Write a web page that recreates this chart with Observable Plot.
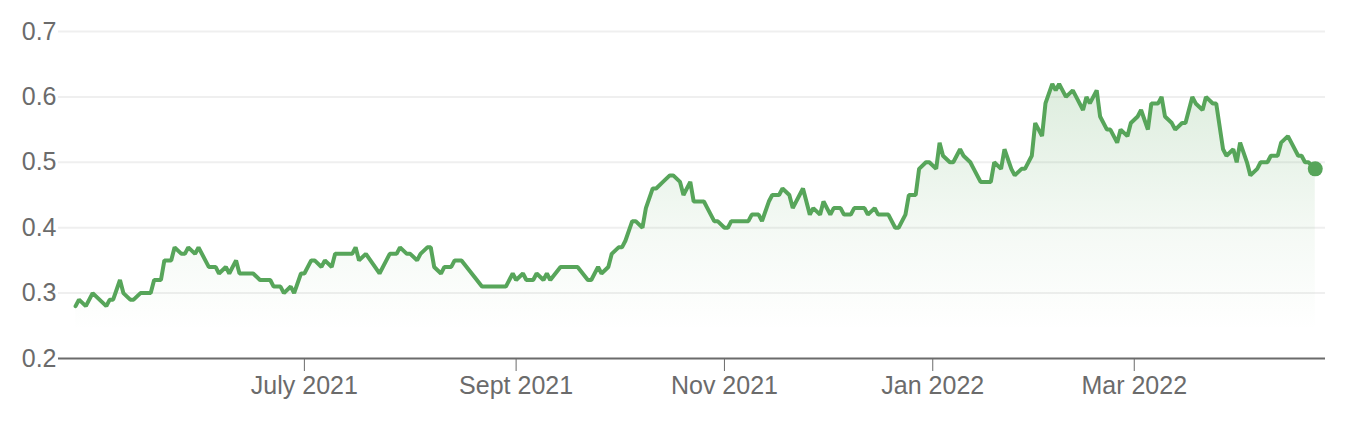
<!DOCTYPE html>
<html>
<head>
<meta charset="utf-8">
<script src="https://cdn.jsdelivr.net/npm/d3@7"></script>
<script src="https://cdn.jsdelivr.net/npm/@observablehq/plot@0.6"></script>
<style>
  html, body { margin: 0; padding: 0; background: #fff; }
</style>
</head>
<body>
<div id="chart"></div>
<script>
const dates = [
  "2021-04-25","2021-04-26","2021-04-28","2021-04-30","2021-05-04","2021-05-05","2021-05-06","2021-05-08","2021-05-09","2021-05-11",
  "2021-05-12","2021-05-14","2021-05-17","2021-05-18","2021-05-20","2021-05-21","2021-05-23","2021-05-24","2021-05-26","2021-05-27",
  "2021-05-28","2021-05-30","2021-05-31","2021-06-02","2021-06-03","2021-06-05","2021-06-06","2021-06-08","2021-06-09","2021-06-11",
  "2021-06-12","2021-06-16","2021-06-18","2021-06-21","2021-06-22","2021-06-24","2021-06-25","2021-06-27","2021-06-28","2021-06-30",
  "2021-07-01","2021-07-03","2021-07-04","2021-07-06","2021-07-07","2021-07-09","2021-07-10","2021-07-15","2021-07-16","2021-07-17",
  "2021-07-19","2021-07-23","2021-07-25","2021-07-26","2021-07-28","2021-07-29","2021-07-31","2021-08-01","2021-08-03","2021-08-04",
  "2021-08-06","2021-08-07","2021-08-08","2021-08-10","2021-08-11","2021-08-13","2021-08-14","2021-08-16","2021-08-22","2021-08-29",
  "2021-08-31","2021-09-01","2021-09-03","2021-09-04","2021-09-06","2021-09-07","2021-09-09","2021-09-10","2021-09-11","2021-09-14",
  "2021-09-19","2021-09-22","2021-09-23","2021-09-25","2021-09-26","2021-09-28","2021-09-29","2021-10-01","2021-10-02","2021-10-03",
  "2021-10-05","2021-10-06","2021-10-08","2021-10-09","2021-10-11","2021-10-12","2021-10-14","2021-10-16","2021-10-17","2021-10-19",
  "2021-10-20","2021-10-22","2021-10-23","2021-10-26","2021-10-27","2021-10-29","2021-10-30","2021-11-01","2021-11-02","2021-11-03",
  "2021-11-08","2021-11-09","2021-11-11","2021-11-12","2021-11-14","2021-11-15","2021-11-17","2021-11-18","2021-11-20","2021-11-21",
  "2021-11-23","2021-11-24","2021-11-26","2021-11-27","2021-11-29","2021-11-30","2021-12-02","2021-12-03","2021-12-05","2021-12-06",
  "2021-12-08","2021-12-09","2021-12-12","2021-12-13","2021-12-15","2021-12-16","2021-12-19","2021-12-21","2021-12-22","2021-12-24",
  "2021-12-25","2021-12-27","2021-12-28","2021-12-30","2021-12-31","2022-01-02","2022-01-03","2022-01-04","2022-01-06","2022-01-07",
  "2022-01-09","2022-01-10","2022-01-12","2022-01-13","2022-01-15","2022-01-18","2022-01-19","2022-01-21","2022-01-22","2022-01-24",
  "2022-01-25","2022-01-27","2022-01-28","2022-01-30","2022-01-31","2022-02-02","2022-02-03","2022-02-05","2022-02-06","2022-02-07",
  "2022-02-09","2022-02-11","2022-02-12","2022-02-14","2022-02-15","2022-02-16","2022-02-18","2022-02-19","2022-02-21","2022-02-22",
  "2022-02-24","2022-02-25","2022-02-27","2022-02-28","2022-03-02","2022-03-03","2022-03-05","2022-03-06","2022-03-08","2022-03-09",
  "2022-03-10","2022-03-12","2022-03-13","2022-03-15","2022-03-16","2022-03-18","2022-03-19","2022-03-21","2022-03-22","2022-03-24",
  "2022-03-25","2022-03-27","2022-03-28","2022-03-30","2022-03-31","2022-04-01","2022-04-03","2022-04-04","2022-04-06","2022-04-07",
  "2022-04-09","2022-04-10","2022-04-12","2022-04-13","2022-04-15","2022-04-16","2022-04-18","2022-04-19","2022-04-20","2022-04-21",
  "2022-04-23"
];
const prices = [
  0.28,0.29,0.28,0.30,0.28,0.29,0.29,0.32,0.30,0.29,
  0.29,0.30,0.30,0.32,0.32,0.35,0.35,0.37,0.36,0.36,
  0.37,0.36,0.37,0.35,0.34,0.34,0.33,0.34,0.33,0.35,
  0.33,0.33,0.32,0.32,0.31,0.31,0.30,0.31,0.30,0.33,
  0.33,0.35,0.35,0.34,0.35,0.34,0.36,0.36,0.37,0.35,
  0.36,0.33,0.35,0.36,0.36,0.37,0.36,0.36,0.35,0.36,
  0.37,0.37,0.34,0.33,0.34,0.34,0.35,0.35,0.31,0.31,
  0.33,0.32,0.33,0.32,0.32,0.33,0.32,0.33,0.32,0.34,
  0.34,0.32,0.32,0.34,0.33,0.34,0.36,0.37,0.37,0.38,
  0.41,0.41,0.40,0.43,0.46,0.46,0.47,0.48,0.48,0.47,
  0.45,0.47,0.44,0.44,0.43,0.41,0.41,0.40,0.40,0.41,
  0.41,0.42,0.42,0.41,0.44,0.45,0.45,0.46,0.45,0.43,
  0.45,0.46,0.42,0.43,0.42,0.44,0.42,0.43,0.43,0.42,
  0.42,0.43,0.43,0.42,0.43,0.42,0.42,0.40,0.40,0.42,
  0.45,0.45,0.49,0.50,0.50,0.49,0.53,0.51,0.50,0.50,
  0.52,0.51,0.50,0.49,0.47,0.47,0.50,0.49,0.52,0.49,
  0.48,0.49,0.49,0.51,0.56,0.54,0.59,0.62,0.61,0.62,
  0.60,0.61,0.60,0.58,0.60,0.59,0.61,0.57,0.55,0.55,
  0.53,0.55,0.54,0.56,0.57,0.58,0.55,0.59,0.59,0.60,
  0.57,0.56,0.55,0.56,0.56,0.60,0.59,0.58,0.60,0.59,
  0.59,0.52,0.51,0.52,0.50,0.53,0.50,0.48,0.49,0.50,
  0.50,0.51,0.51,0.53,0.54,0.53,0.51,0.51,0.50,0.50,
  0.49
];
const xDomain = ["2021-04-20", "2022-04-26"];
const xTickDates = ["2021-07-01", "2021-09-01", "2021-11-01", "2022-01-01", "2022-03-01"];
const xTickLabels = ["July 2021", "Sept 2021", "Nov 2021", "Jan 2022", "Mar 2022"];
const yTicks = [0.2, 0.3, 0.4, 0.5, 0.6, 0.7];

const green = "#57a55a";
const data = dates.map((d, i) => ({date: new Date(d), value: prices[i]}));
const tickDates = xTickDates.map(d => new Date(d));

const chart = Plot.plot({
  width: 1352,
  height: 428,
  marginTop: 31,
  marginBottom: 70,
  marginLeft: 58,
  marginRight: 27,
  style: {
    fontFamily: "'Liberation Sans', Arial, Helvetica, sans-serif",
    fontSize: "25px",
    color: "#6b6b6b",
    background: "#fff"
  },
  x: {
    type: "utc",
    domain: xDomain.map(d => new Date(d)),
    ticks: tickDates,
    tickFormat: d => xTickLabels[tickDates.findIndex(t => +t === +d)],
    tickSize: 13,
    tickPadding: 5,
    label: null
  },
  y: {
    domain: [0.2, 0.7],
    ticks: yTicks,
    tickFormat: d3.format(".1f"),
    tickSize: 0,
    tickPadding: 2,
    label: null
  },
  marks: [
    Plot.ruleY(yTicks.slice(1), {stroke: "#efefef", strokeWidth: 2}),
    Plot.areaY(data, {x: "date", y1: 0.2, y2: "value", fill: "url(#areaGrad)"}),
    Plot.ruleY([0.2], {stroke: "#6b6b6b", strokeWidth: 2}),
    Plot.lineY(data, {x: "date", y: "value", stroke: green, strokeWidth: 4, strokeLinejoin: "miter"}),
    Plot.dot(data.slice(-1), {x: "date", y: "value", r: 7.5, fill: green, stroke: "none"})
  ]
});

const defs = d3.select(chart).insert("defs", ":first-child");
const grad = defs.append("linearGradient")
  .attr("id", "areaGrad")
  .attr("x1", 0).attr("y1", 0).attr("x2", 0).attr("y2", 1);
grad.append("stop").attr("offset", "0%").attr("stop-color", green).attr("stop-opacity", 0.2);
grad.append("stop").attr("offset", "55%").attr("stop-color", green).attr("stop-opacity", 0.06);
grad.append("stop").attr("offset", "90%").attr("stop-color", green).attr("stop-opacity", 0);

document.getElementById("chart").appendChild(chart);
</script>
</body>
</html>
